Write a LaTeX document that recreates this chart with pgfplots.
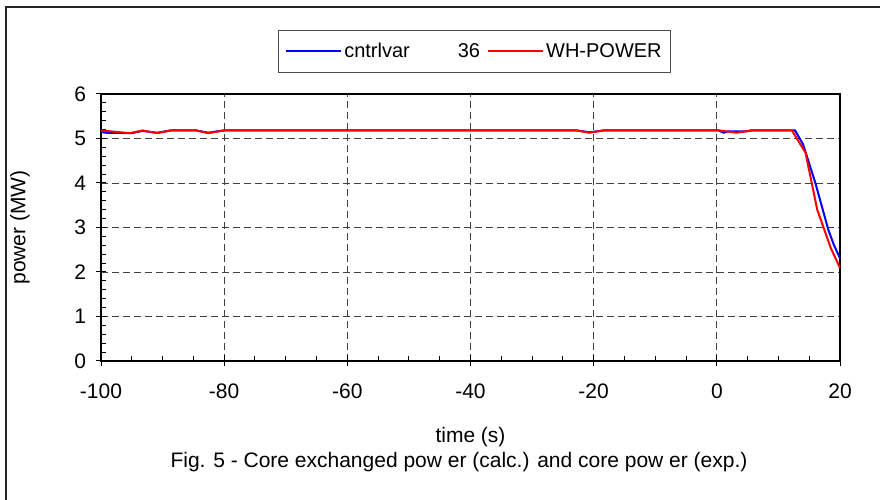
\documentclass[border=0pt]{standalone}
\usepackage{pgfplots}
\pgfplotsset{compat=1.18}
\usepackage{fontspec}
\setmainfont{Liberation Sans}

% core power traces
\pgfplotstableread{
t v
-100 5.18
-99.5 5.13
-95 5.12
-93.3 5.17
-90.9 5.13
-88.7 5.18
-84.5 5.18
-82.6 5.13
-80.1 5.18
-22.7 5.18
-20.7 5.14
-18.4 5.18
0.3 5.18
1.1 5.13
1.8 5.16
4.8 5.16
5.5 5.18
12.7 5.18
14.0 4.87
16.0 4.00
18.1 2.95
19.0 2.61
20.0 2.31
}\calc

\pgfplotstableread{
t v
-100 5.18
-95.3 5.12
-93.3 5.18
-90.9 5.12
-88.7 5.18
-84.5 5.18
-82.6 5.12
-80.1 5.18
-22.7 5.18
-20.7 5.13
-18.4 5.18
0.5 5.18
3.2 5.13
5.6 5.18
12.2 5.18
14.4 4.68
16.3 3.40
18.5 2.54
20.0 2.09
}\expt

\begin{document}
\begin{tikzpicture}
\useasboundingbox (0pt,0pt) rectangle (880pt,500pt);
\draw[line width=1.2pt, black!85] (6pt,-20pt) -- (6pt,493pt) -- (900pt,493pt);
\begin{axis}[
  at={(101pt,139pt)}, anchor=south west,
  scale only axis, width=739pt, height=267pt,
  xmin=-100, xmax=20, ymin=0, ymax=6,
  xtick={-100,-80,...,20}, ytick={0,1,...,6},
  xtick pos=bottom, ytick pos=left,
  minor x tick num=3, minor y tick num=4,
  tick align=center,
  major tick length=11pt, minor tick length=5pt,
  every minor x tick/.style={yshift=2.5pt},
  every minor y tick/.style={xshift=2.5pt},
  grid=major,
  major grid style={black!75, dash pattern=on 7pt off 4pt, line width=0.9pt},
  axis line style={line width=1.5pt, black},
  every tick/.style={black, line width=1pt},
  tick label style={font=\fontsize{21}{24}\selectfont},
  /pgf/number format/assume math mode=true,
  xticklabel style={yshift=-14pt},
  yticklabel style={xshift=-6pt},
  xlabel={time (s)}, ylabel={power (MW)},
  label style={font=\fontsize{21}{24}\selectfont},
  xlabel style={at={(axis description cs:0.5,0)}, anchor=center, yshift=-76pt},
  ylabel style={at={(axis description cs:0,0.5)}, anchor=center, yshift=81pt},
  legend columns=2,
  legend style={at={(0.5054,1.161)}, anchor=center, draw=black!70, line width=0.6pt,
    font=\fontsize{20}{23}\selectfont, inner xsep=7pt, inner ysep=11pt,
    /tikz/every even column/.append style={column sep=5pt}},
  legend image code/.code={%
    \path (-2pt,0pt) -- (53pt,0pt);
    \draw[#1, line width=1.2pt] (0pt,0pt) -- (49pt,0pt);},
  clip=false,
]
\addplot[blue, line width=2pt] table[x=t, y=v] {\calc};
\addlegendentry{cntrlvar\hspace{48pt}36}
\addplot[red, line width=2pt] table[x=t, y=v] {\expt};
\addlegendentry{WH-POWER}
\end{axis}
\node[font=\fontsize{21}{24}\selectfont] at (459pt,38pt) {Fig. 5 - Core exchanged pow er (calc.) and core pow er (exp.)};
\end{tikzpicture}
\end{document}
